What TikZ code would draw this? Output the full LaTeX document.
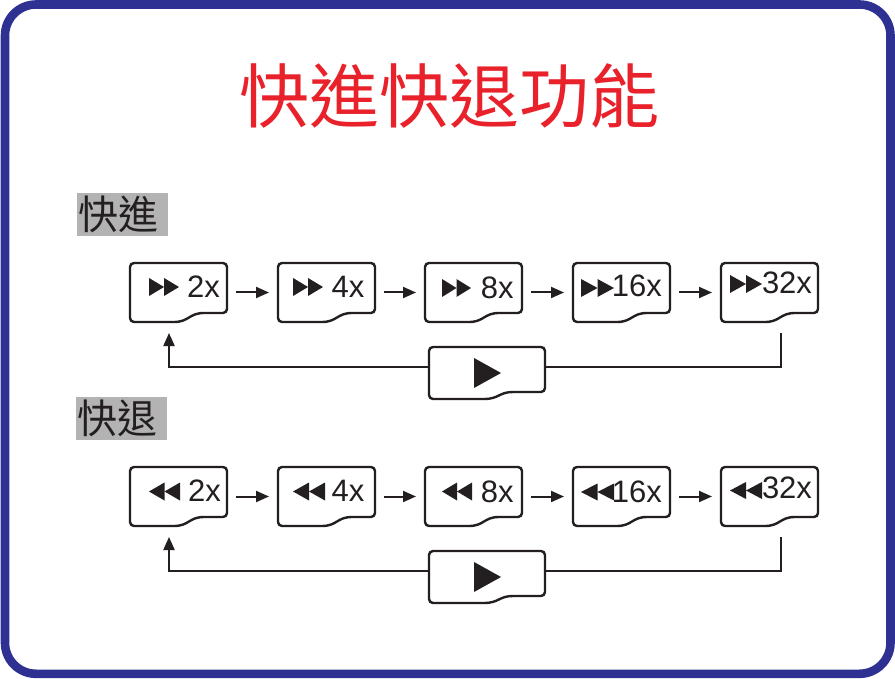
\documentclass[tikz,border=0pt]{standalone}
\usepackage{fontspec}
\setmainfont{Liberation Sans}
\newfontfamily\cjk{Noto Sans CJK TC}
\usetikzlibrary{arrows.meta}
\definecolor{frameblue}{HTML}{2E3192}
\definecolor{titlered}{HTML}{E8212A}
\definecolor{inkc}{HTML}{231F20}
\definecolor{labgray}{HTML}{B3B3B3}
\tikzset{
  boxline/.style={draw=inkc, line width=2.4pt, rounded corners=4pt, fill=white},
  boxnode/.style={draw=none, inner sep=0pt, outer sep=0pt, minimum width=97pt, minimum height=59pt},
  playnode/.style={draw=none, inner sep=0pt, outer sep=0pt, minimum width=116pt, minimum height=52pt},
  conn/.style={draw=inkc, line width=2pt, -{Triangle[length=13pt,width=11pt]}},
  speed/.style={text=inkc, inner sep=0pt, font=\fontsize{31pt}{31pt}\selectfont, anchor=base west},
  graylab/.style={fill=labgray, text=inkc, font=\cjk\fontsize{40pt}{40pt}\selectfont, minimum height=43pt, text width=88pt, inner xsep=1.5pt, inner ysep=0pt, align=left, anchor=north west},
  titlestyle/.style={text=titlered, font=\cjk\fontsize{70pt}{70pt}\selectfont, inner sep=0pt}
}
% name, curve start, control x, curve end, rise
\newcommand\docshape[5]{%
  \draw[boxline] ([xshift=#2pt]#1.south west) .. controls ([xshift=#3pt]#1.south west) and ([xshift=#3pt,yshift=#5pt]#1.south west) .. ([xshift=#4pt,yshift=#5pt]#1.south west) -- ([yshift=#5pt]#1.south east) -- (#1.north east) -- (#1.north west) -- (#1.south west) -- cycle;%
}
\begin{document}
\begin{tikzpicture}[x=1pt,y=-1pt]
\useasboundingbox (0,0) rectangle (895,679);
\draw[frameblue, line width=8.6pt, rounded corners=31pt, fill=white] (5,4.5) rectangle (890.5,673.8);

\node[titlestyle] (title) at (449,96.5) {快進快退功能};

\node[graylab] (labff) at (77,193) {快進};
\node[graylab] (labrw) at (76,397) {快退};

% fast forward row
\foreach \i/\xo/\ta/\tw/\cy/\th/\txt/\tx/\bl/\lsb in {1/130/149/30/287/18/2x/188/298/1,2/278/293/30/287/18/4x/332/298/0.6,3/425/442/29/288/18/8x/482/299/1.3,4/573/581/33/288/18/16x/615/297/3.4,5/721/730/32/284/18/32x/763/294/1.2}{
  \node[boxnode, anchor=north west] (f\i) at (\xo,263) {};
  \docshape{f\i}{40}{59}{78}{9}
  \fill[inkc] (\ta,{\cy-\th/2}) -- (\ta,{\cy+\th/2}) -- ({\ta+\tw/2},\cy) -- cycle;
  \fill[inkc] ({\ta+\tw/2},{\cy-\th/2}) -- ({\ta+\tw/2},{\cy+\th/2}) -- ({\ta+\tw},\cy) -- cycle;
  \node[speed] (ft\i) at ({\tx-\lsb},\bl) {\txt};
}
\foreach \a/\b in {1/2,2/3,3/4,4/5}
  \draw[conn, shorten <=9pt, shorten >=9pt] (f\a.east) -- (f\b.west);
\coordinate (fs) at (781,333);
\coordinate (fe) at (169,333);
\draw[conn] (fs) -- ++(0,34) -| (fe);
\node[playnode, anchor=north west] (pf) at (429,347) {};
\docshape{pf}{51}{70}{88}{7}
\fill[inkc, shift={(pf.center)}] (-13,-15) -- (-13,15) -- (14,0) -- cycle;

% rewind row
\foreach \i/\xo/\ta/\tw/\cy/\th/\txt/\tx/\bl/\lsb in {1/130/149/31/491.5/18/2x/189/501/1,2/278/293/32/491.5/18/4x/332/501/0.6,3/425/442/30/491.5/18/8x/482/502/1.3,4/573/581/33/492/17/16x/615/502/3.4,5/721/730/32/490.5/17/32x/763/498/1.2}{
  \node[boxnode, anchor=north west] (r\i) at (\xo,467) {};
  \docshape{r\i}{40}{59}{78}{9}
  \fill[inkc] ({\ta+\tw/2},{\cy-\th/2}) -- ({\ta+\tw/2},{\cy+\th/2}) -- (\ta,\cy) -- cycle;
  \fill[inkc] ({\ta+\tw},{\cy-\th/2}) -- ({\ta+\tw},{\cy+\th/2}) -- ({\ta+\tw/2},\cy) -- cycle;
  \node[speed] (rt\i) at ({\tx-\lsb},\bl) {\txt};
}
\foreach \a/\b in {1/2,2/3,3/4,4/5}
  \draw[conn, shorten <=9pt, shorten >=9pt] (r\a.east) -- (r\b.west);
\coordinate (rs) at (781,537);
\coordinate (re) at (169,537);
\draw[conn] (rs) -- ++(0,34) -| (re);
\node[playnode, anchor=north west] (pr) at (429,551) {};
\docshape{pr}{51}{70}{88}{7}
\fill[inkc, shift={(pr.center)}] (-13,-15) -- (-13,15) -- (14,0) -- cycle;
\end{tikzpicture}
\end{document}
